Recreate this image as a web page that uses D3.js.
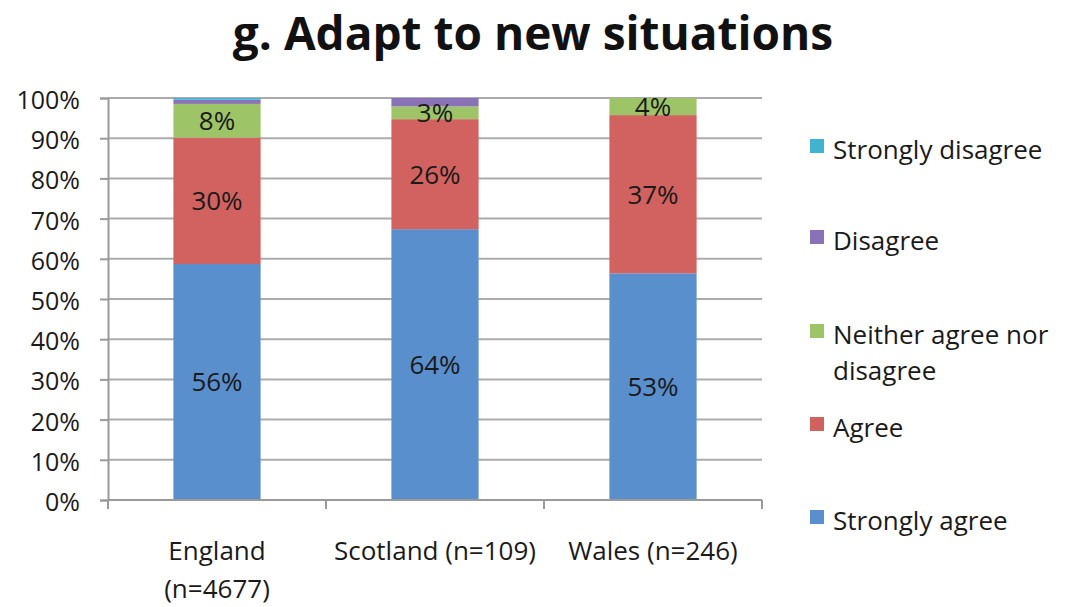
<!DOCTYPE html>
<html>
<head>
<meta charset="utf-8">
<script src="https://cdn.jsdelivr.net/npm/d3@7"></script>
<style>
  html, body { margin: 0; padding: 0; background: #fff; }
  svg { display: block; font-family: "Open Sans", Lato, sans-serif; }
</style>
</head>
<body>
<svg id="chart" width="1071" height="607"></svg>
<script>
// Survey responses, percent of respondents per nation
const categories = ["England", "Scotland (n=109)", "Wales (n=246)"];
const categoryLines = [["England", "(n=4677)"], ["Scotland (n=109)"], ["Wales (n=246)"]];
const seriesNames = ["Strongly agree", "Agree", "Neither agree nor disagree", "Disagree", "Strongly disagree"];
const stronglyAgree = [56, 64, 53];
const agree = [30, 26, 37];
const neither = [8, 3, 4];
const disagree = [1, 2, 0];
const stronglyDisagree = [0.4, 0, 0];
const yTicks = [0, 0.1, 0.2, 0.3, 0.4, 0.5, 0.6, 0.7, 0.8, 0.9, 1];
const colors = ["#5a8fce", "#d2625f", "#9dc467", "#8a72b6", "#3fb4d0"];
const title = "g. Adapt to new situations";

const seriesValues = [stronglyAgree, agree, neither, disagree, stronglyDisagree];
const rows = categories.map((c, i) => {
  const r = { category: c };
  seriesNames.forEach((s, k) => { r[s] = seriesValues[k][i]; });
  return r;
});

const svg = d3.select("#chart");
const plotLeft = 108, plotRight = 762, plotTop = 98, plotBottom = 500;
const textColor = "#1a1a1a";

const x = d3.scaleBand().domain(categories).range([plotLeft, plotRight]).paddingInner(0.6).paddingOuter(0.3);
const y = d3.scaleLinear().domain([0, 1]).range([plotBottom, plotTop]);

const stack = d3.stack().keys(seriesNames).offset(d3.stackOffsetExpand);
const stacked = stack(rows);

// Title
svg.append("text")
  .attr("x", 533).attr("y", 50)
  .attr("text-anchor", "middle")
  .attr("font-size", 46).attr("font-weight", 700)
  .attr("fill", "#111")
  .text(title);

// Horizontal gridlines
svg.append("g").selectAll("line").data(yTicks.filter(t => t > 0)).join("line")
  .attr("x1", plotLeft).attr("x2", plotRight)
  .attr("y1", d => y(d)).attr("y2", d => y(d))
  .attr("stroke", "#ababab").attr("stroke-width", 2);

// Y axis
const yAxis = d3.axisLeft(y).tickValues(yTicks).tickFormat(d3.format(".0%")).tickSize(8).tickPadding(20);
const gy = svg.append("g").attr("transform", `translate(${plotLeft},0)`).call(yAxis);
gy.select(".domain").attr("stroke", "#9a9a9a").attr("stroke-width", 2);
gy.selectAll(".tick line").attr("stroke", "#9a9a9a").attr("stroke-width", 2);
gy.selectAll(".tick text").attr("font-size", 25).attr("fill", textColor)
  .attr("dy", "0.42em")
  .attr("font-family", "'Open Sans', sans-serif");

// Stacked bars
const layers = svg.append("g").selectAll("g").data(stacked).join("g")
  .attr("fill", (d, i) => colors[i]);
layers.selectAll("rect").data(d => d).join("rect")
  .attr("x", d => x(d.data.category))
  .attr("width", x.bandwidth())
  .attr("y", d => y(d[1]))
  .attr("height", d => y(d[0]) - y(d[1]));

// Value labels for segments of 3% and more
const labelData = [];
stacked.forEach((layer, k) => {
  layer.forEach((d, i) => {
    const v = seriesValues[k][i];
    if (v >= 3) labelData.push({ cat: d.data.category, v, mid: (d[0] + d[1]) / 2 });
  });
});
svg.append("g").selectAll("text").data(labelData).join("text")
  .attr("x", d => x(d.cat) + x.bandwidth() / 2)
  .attr("y", d => y(d.mid))
  .attr("dy", "0.36em")
  .attr("text-anchor", "middle")
  .attr("font-size", 26).attr("fill", textColor)
  .text(d => d.v + "%");

// X axis baseline with ticks at band boundaries
const xAxisG = svg.append("g");
xAxisG.append("line")
  .attr("x1", plotLeft).attr("x2", plotRight).attr("y1", plotBottom).attr("y2", plotBottom)
  .attr("stroke", "#9a9a9a").attr("stroke-width", 2);
const boundaries = [plotLeft].concat(categories.map(c => x(c) + x.bandwidth() / 2 + x.step() / 2));
xAxisG.selectAll("line.tick").data(boundaries).join("line")
  .attr("class", "tick")
  .attr("x1", d => d).attr("x2", d => d)
  .attr("y1", plotBottom).attr("y2", plotBottom + 9)
  .attr("stroke", "#9a9a9a").attr("stroke-width", 2);

// Category labels
const catLabels = svg.append("g").selectAll("text").data(categories).join("text")
  .attr("x", d => x(d) + x.bandwidth() / 2)
  .attr("y", 560)
  .attr("text-anchor", "middle")
  .attr("font-size", 26).attr("fill", textColor);
catLabels.each(function (d, i) {
  d3.select(this).selectAll("tspan").data(categoryLines[i]).join("tspan")
    .attr("x", x(d) + x.bandwidth() / 2)
    .attr("dy", (t, j) => j === 0 ? 0 : 38)
    .text(t => t);
});

// Legend, top entry is the last stacked series
const legendItems = [
  { name: "Strongly disagree", lines: ["Strongly disagree"], cy: 150 },
  { name: "Disagree", lines: ["Disagree"], cy: 241 },
  { name: "Neither agree nor disagree", lines: ["Neither agree nor", "disagree"], cy: 335 },
  { name: "Agree", lines: ["Agree"], cy: 428 },
  { name: "Strongly agree", lines: ["Strongly agree"], cy: 521 }
];
const lg = svg.append("g").selectAll("g").data(legendItems).join("g");
lg.append("rect")
  .attr("x", 810).attr("y", d => d.cy - 11)
  .attr("width", 14).attr("height", 14)
  .attr("fill", d => colors[seriesNames.indexOf(d.name)]);
lg.append("text")
  .attr("x", 833).attr("y", d => d.cy)
  .attr("font-size", 26).attr("fill", textColor)
  .each(function (d) {
    d3.select(this).selectAll("tspan").data(d.lines).join("tspan")
      .attr("x", 833)
      .attr("dy", (t, j) => j === 0 ? "0.36em" : 36)
      .text(t => t);
  });
</script>
</body>
</html>
